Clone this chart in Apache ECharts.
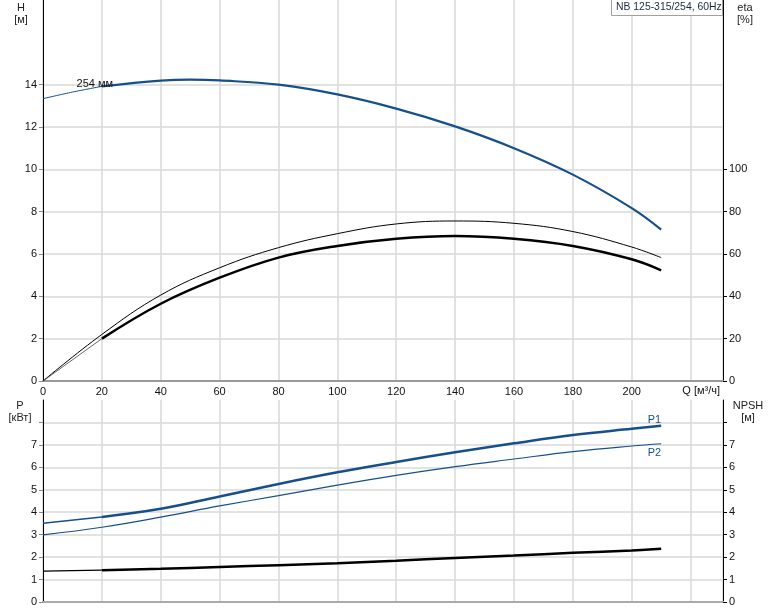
<!DOCTYPE html>
<html>
<head>
<meta charset="utf-8">
<script src="https://cdn.jsdelivr.net/npm/echarts@6/dist/echarts.min.js"></script>
<style>
html,body{margin:0;padding:0;background:#fff;}
#c{width:774px;height:611px;}
</style>
</head>
<body>
<div id="c"></div>
<script>
// ---- data ----
var q = [20, 40, 60, 80, 100, 120, 140, 160, 180, 200, 210];
var qHead = [20, 40, 50, 60, 80, 100, 120, 140, 160, 180, 200, 210];
var qStart = [0, 10, 20];
var headStart = [13.34, 13.65, 13.92];
var head = [13.92, 14.19, 14.24, 14.2, 14.0, 13.54, 12.87, 12.03, 11.0, 9.75, 8.17, 7.15];
var qEtaFull = [0, 20, 40, 60, 80, 100, 120, 140, 160, 180, 200, 210];
var etaUpper = [0, 22.0, 40.6, 53.5, 63.0, 69.6, 74.2, 75.6, 74.5, 70.6, 63.3, 58.3];
var qEtaStart = [0, 20];
var etaLowerStart = [0, 20.0];
var etaLower = [20.0, 36.5, 48.8, 58.3, 63.8, 67.2, 68.5, 67.2, 63.8, 57.5, 52.3];
var qPStart = [0, 20];
var p1Start = [3.51, 3.79];
var p1 = [3.79, 4.15, 4.70, 5.26, 5.78, 6.24, 6.67, 7.07, 7.44, 7.72, 7.85];
var p2 = [2.99, 3.33, 3.78, 4.28, 4.74, 5.21, 5.64, 6.03, 6.37, 6.70, 6.95, 7.05];
var npshStart = [1.38, 1.42];
var npsh = [1.42, 1.48, 1.56, 1.64, 1.73, 1.84, 1.96, 2.07, 2.19, 2.30, 2.37];
var xTicks = [0, 20, 40, 60, 80, 100, 120, 140, 160, 180, 200];
var hTicks = [0, 2, 4, 6, 8, 10, 12, 14];
var etaTicks = [0, 20, 40, 60, 80, 100];
var pLabels = [0, 1, 2, 3, 4, 5, 6, 7];
var pTickVals = [0, 1, 2, 3, 4, 5, 6, 7, 8];
var titleText = 'NB 125-315/254, 60Hz';
var curveName = '254 мм';

function pairs(xs, ys) { return xs.map(function (x, i) { return [x, ys[i]]; }); }

var FONT = 'Liberation Sans, Arial, sans-serif';
var BLUE = '#16508b';
var GRID = '#d9d9d9';

var chart = echarts.init(document.getElementById('c'), null, {renderer: 'canvas'});

function yAxisBase(gridIndex, pos, max, interval, labels, ticks) {
  return {
    type: 'value', gridIndex: gridIndex, position: pos, min: 0, max: max, interval: interval,
    axisLine: {show: true, onZero: false, lineStyle: {color: '#000', width: 1}},
    axisTick: {show: true, length: 4, customValues: ticks, lineStyle: {color: pos === 'left' ? '#888' : '#000'}},
    axisLabel: {customValues: labels, color: '#111', fontFamily: FONT, fontSize: 11, margin: 6},
    splitLine: {show: pos === 'left', lineStyle: {color: GRID, width: 1.5}}
  };
}

var option = {
  animation: false,
  backgroundColor: '#fff',
  grid: [
    {left: 43, right: 51, top: 0, height: 381},
    {left: 43, right: 51, top: 400, height: 202}
  ],
  xAxis: [
    {
      type: 'value', gridIndex: 0, min: 0, max: 231, interval: 20,
      axisLine: {show: true, lineStyle: {color: '#999', width: 2}},
      axisTick: {show: false},
      axisLabel: {customValues: xTicks, color: '#111', fontFamily: FONT, fontSize: 11, margin: 5},
      splitLine: {show: true, lineStyle: {color: GRID, width: 1.5}},
      name: 'Q [м³/ч]', nameLocation: 'end', nameGap: -3,
      nameTextStyle: {align: 'right', verticalAlign: 'top', padding: [4, 0, 0, 0], color: '#111', fontFamily: FONT, fontSize: 11}
    },
    {
      type: 'value', gridIndex: 1, min: 0, max: 231, interval: 20,
      axisLine: {show: true, lineStyle: {color: '#aaa', width: 2}},
      axisTick: {show: false},
      axisLabel: {show: false},
      splitLine: {show: true, lineStyle: {color: GRID, width: 1.5}}
    },
    {
      type: 'value', gridIndex: 1, min: 0, max: 231, position: 'top',
      axisLine: {show: true, lineStyle: {color: '#aaa', width: 2}},
      axisTick: {show: false}, axisLabel: {show: false}, splitLine: {show: false}
    }
  ],
  yAxis: [
    yAxisBase(0, 'left', 18, 2, hTicks, hTicks),
    yAxisBase(0, 'right', 180, 20, etaTicks, etaTicks),
    yAxisBase(1, 'left', 9, 1, pLabels, pTickVals),
    yAxisBase(1, 'right', 9, 1, pLabels, pTickVals)
  ],
  graphic: [
    {type: 'text', x: 21, y: 2, style: {text: 'H\n[м]', font: '11px ' + FONT, fill: '#222', align: 'center', lineHeight: 12}},
    {type: 'text', x: 745, y: 2, style: {text: 'eta\n[%]', font: '11px ' + FONT, fill: '#222', align: 'center', lineHeight: 12}},
    {type: 'text', x: 20, y: 400, style: {text: 'P\n[кВт]', font: '11px ' + FONT, fill: '#222', align: 'center', lineHeight: 12}},
    {type: 'text', x: 748, y: 400, style: {text: 'NPSH\n[м]', font: '11px ' + FONT, fill: '#222', align: 'center', lineHeight: 12}},
    {type: 'rect', shape: {x: 611.5, y: -1, width: 111, height: 16.5}, style: {fill: '#fff', stroke: '#a0a0a0', lineWidth: 1}, z: 10},
    {type: 'text', x: 616, y: 2, z: 11, style: {text: titleText, font: '10.4px ' + FONT, fill: '#1a2a44'}}
  ],
  series: [
    {type: 'line', xAxisIndex: 0, yAxisIndex: 0, data: pairs(qStart, headStart), smooth: 0.3, showSymbol: false,
      lineStyle: {color: BLUE, width: 1}, z: 3,
      endLabel: {show: true, formatter: curveName, align: 'center', verticalAlign: 'middle', distance: 0, offset: [-7, -2],
        color: '#111', fontFamily: FONT, fontSize: 11}},
    {type: 'line', xAxisIndex: 0, yAxisIndex: 0, data: pairs(qHead, head), smooth: 0.4, showSymbol: false,
      lineStyle: {color: BLUE, width: 2.2}, z: 3},
    {type: 'line', xAxisIndex: 0, yAxisIndex: 1, data: pairs(qEtaFull, etaUpper), smooth: 0.4, showSymbol: false,
      lineStyle: {color: '#000', width: 1}, z: 3},
    {type: 'line', xAxisIndex: 0, yAxisIndex: 1, data: pairs(qEtaStart, etaLowerStart), showSymbol: false,
      lineStyle: {color: '#444', width: 0.8}, z: 3},
    {type: 'line', xAxisIndex: 0, yAxisIndex: 1, data: pairs(q, etaLower), smooth: 0.4, showSymbol: false,
      lineStyle: {color: '#000', width: 2.5}, z: 3},
    {type: 'line', xAxisIndex: 1, yAxisIndex: 2, data: pairs(qPStart, p1Start), showSymbol: false,
      lineStyle: {color: BLUE, width: 1.5}, z: 3},
    {type: 'line', xAxisIndex: 1, yAxisIndex: 2, data: pairs(q, p1), smooth: 0.4, showSymbol: false,
      lineStyle: {color: BLUE, width: 2.5}, z: 3,
      endLabel: {show: true, formatter: 'P1', align: 'right', verticalAlign: 'bottom', distance: 0, offset: [0, 0],
        color: BLUE, fontFamily: FONT, fontSize: 11}},
    {type: 'line', xAxisIndex: 1, yAxisIndex: 2, data: pairs([0].concat(q), p2), smooth: 0.4, showSymbol: false,
      lineStyle: {color: BLUE, width: 1.2}, z: 3,
      endLabel: {show: true, formatter: 'P2', align: 'right', verticalAlign: 'top', distance: 0, offset: [0, 4],
        color: BLUE, fontFamily: FONT, fontSize: 11}},
    {type: 'line', xAxisIndex: 1, yAxisIndex: 3, data: pairs(qPStart, npshStart), showSymbol: false,
      lineStyle: {color: '#000', width: 1.2}, z: 3},
    {type: 'line', xAxisIndex: 1, yAxisIndex: 3, data: pairs(q, npsh), smooth: 0.4, showSymbol: false,
      lineStyle: {color: '#000', width: 2.5}, z: 3}
  ]
};
chart.setOption(option);
</script>
</body>
</html>
